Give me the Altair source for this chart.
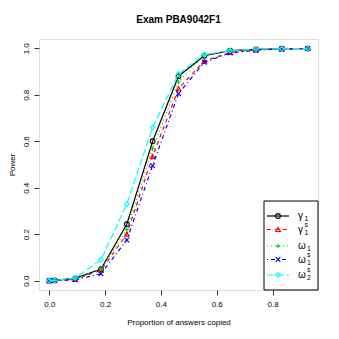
import altair as alt
import pandas as pd

# Proportion of answers copied (items copied out of 54)
copied_items = [0, 1, 5, 10, 15, 20, 25, 30, 35, 40, 45, 50]
n_items = 54
x_vals = [c / n_items for c in copied_items]

gamma1 = [0.0, 0.001, 0.010, 0.050, 0.243, 0.600, 0.880, 0.968, 0.990, 0.995, 0.998, 0.999]
gamma1s = [0.0, 0.001, 0.006, 0.045, 0.200, 0.535, 0.826, 0.945, 0.982, 0.993, 0.997, 0.999]
omega1 = [0.0, 0.001, 0.008, 0.050, 0.220, 0.568, 0.855, 0.970, 0.990, 0.995, 0.998, 0.999]
omega1s = [0.0, 0.0005, 0.004, 0.030, 0.175, 0.496, 0.805, 0.940, 0.980, 0.992, 0.997, 0.999]
omega2s = [0.0, 0.001, 0.012, 0.090, 0.330, 0.660, 0.890, 0.973, 0.990, 0.996, 0.998, 0.999]

series_keys = ["gamma1", "gamma1s", "omega1", "omega1s", "omega2s"]
series_vals = [gamma1, gamma1s, omega1, omega1s, omega2s]
# legend label pieces: main glyph, subscript, superscript
leg_main = ["γ", "γ", "ω", "ω", "ω"]
leg_sub = ["1", "1", "1", "1", "2"]
leg_sup = ["", "s", "", "s", "s"]

colors = ["#000000", "#FF0000", "#00CD00", "#0000FF", "#00FFFF"]
dashes = [None, [4, 4], [1, 3], [1, 3, 4, 3], [7, 3]]
shapes = ["circle", "triangle-up", "M-1,0L1,0M0,-1L0,1", "M-1,-1L1,1M-1,1L1,-1", "diamond"]

FONT = "Liberation Sans"
W, H = 279, 251

xscale = alt.Scale(domain=[-0.037, 0.963], nice=False, zero=False)
yscale = alt.Scale(domain=[-0.04, 1.04], nice=False, zero=False)

xaxis = alt.Axis(values=[0, 0.2, 0.4, 0.6, 0.8], format=".1f", grid=False, domain=False,
                 tickSize=5, tickColor="#333333", labelFontSize=8, labelFont=FONT,
                 labelColor="#000000", labelPadding=5,
                 title="Proportion of answers copied", titleFont=FONT, titleFontSize=8,
                 titleFontWeight="normal", titleColor="#000000", titlePadding=10)
yaxis = alt.Axis(values=[0, 0.2, 0.4, 0.6, 0.8, 1.0], format=".1f", grid=False, domain=False,
                 tickSize=5, tickColor="#333333", labelFontSize=8, labelFont=FONT,
                 labelColor="#000000", labelAngle=270, labelAlign="center",
                 labelBaseline="bottom", labelPadding=4,
                 title="Power", titleFont=FONT, titleFontSize=8,
                 titleFontWeight="normal", titleColor="#000000", titlePadding=6)

enc_x = alt.X("x:Q", scale=xscale, axis=xaxis)
enc_y = alt.Y("y:Q", scale=yscale, axis=yaxis)

layers = []
for i, (key, vals) in enumerate(zip(series_keys, series_vals)):
    df = pd.DataFrame({"x": x_vals, "y": vals, "series": key})
    line_kwargs = dict(color=colors[i], strokeWidth=1.2)
    if dashes[i] is not None:
        line_kwargs["strokeDash"] = dashes[i]
    line = alt.Chart(df).mark_line(**line_kwargs).encode(x=enc_x, y=enc_y)
    pts = alt.Chart(df).mark_point(shape=shapes[i], filled=False, stroke=colors[i],
                                   strokeWidth=1.1, size=22, opacity=1).encode(x=enc_x, y=enc_y)
    layers += [line, pts]

# Legend (manual, R style)
one = pd.DataFrame({"a": [0]})
layers.append(alt.Chart(one).mark_rect(fill="white", stroke="#000000", strokeWidth=1).encode(
    x=alt.value(225), x2=alt.value(279), y=alt.value(162), y2=alt.value(251)))
row_y = [177, 190.5, 207, 220.5, 236]
for i in range(5):
    ry = row_y[i]
    lk = dict(color=colors[i], strokeWidth=1.2)
    if dashes[i] is not None:
        lk["strokeDash"] = dashes[i]
    layers.append(alt.Chart(one).mark_rule(**lk).encode(
        x=alt.value(228), x2=alt.value(250), y=alt.value(ry)))
    layers.append(alt.Chart(one).mark_point(shape=shapes[i], filled=False, stroke=colors[i],
                                            strokeWidth=1.1, size=22, opacity=1).encode(
        x=alt.value(239), y=alt.value(ry)))
    subx = 265.5 if leg_main[i] == "γ" else 268
    layers.append(alt.Chart(one).mark_text(text=leg_main[i], font=FONT, fontSize=10,
                                           align="left", baseline="middle", color="#000000").encode(
        x=alt.value(259), y=alt.value(ry)))
    layers.append(alt.Chart(one).mark_text(text=leg_sub[i], font=FONT, fontSize=7,
                                           align="left", baseline="middle", color="#000000").encode(
        x=alt.value(subx), y=alt.value(ry + 3)))
    if leg_sup[i]:
        layers.append(alt.Chart(one).mark_text(text=leg_sup[i], font=FONT, fontSize=7,
                                               align="left", baseline="middle", color="#000000").encode(
            x=alt.value(subx), y=alt.value(ry - 5)))

chart = alt.layer(*layers).properties(
    width=W, height=H,
    title=alt.TitleParams("Exam PBA9042F1", font=FONT, fontSize=10, fontWeight="bold",
                          anchor="middle", color="#000000", offset=14),
    autosize="none",
    padding={"left": 31, "top": 31, "right": 12, "bottom": 42},
).configure_view(stroke="#333333", strokeWidth=1).configure(background="white")

chart.save("out.html", embed_options={"renderer": "svg", "actions": False})
